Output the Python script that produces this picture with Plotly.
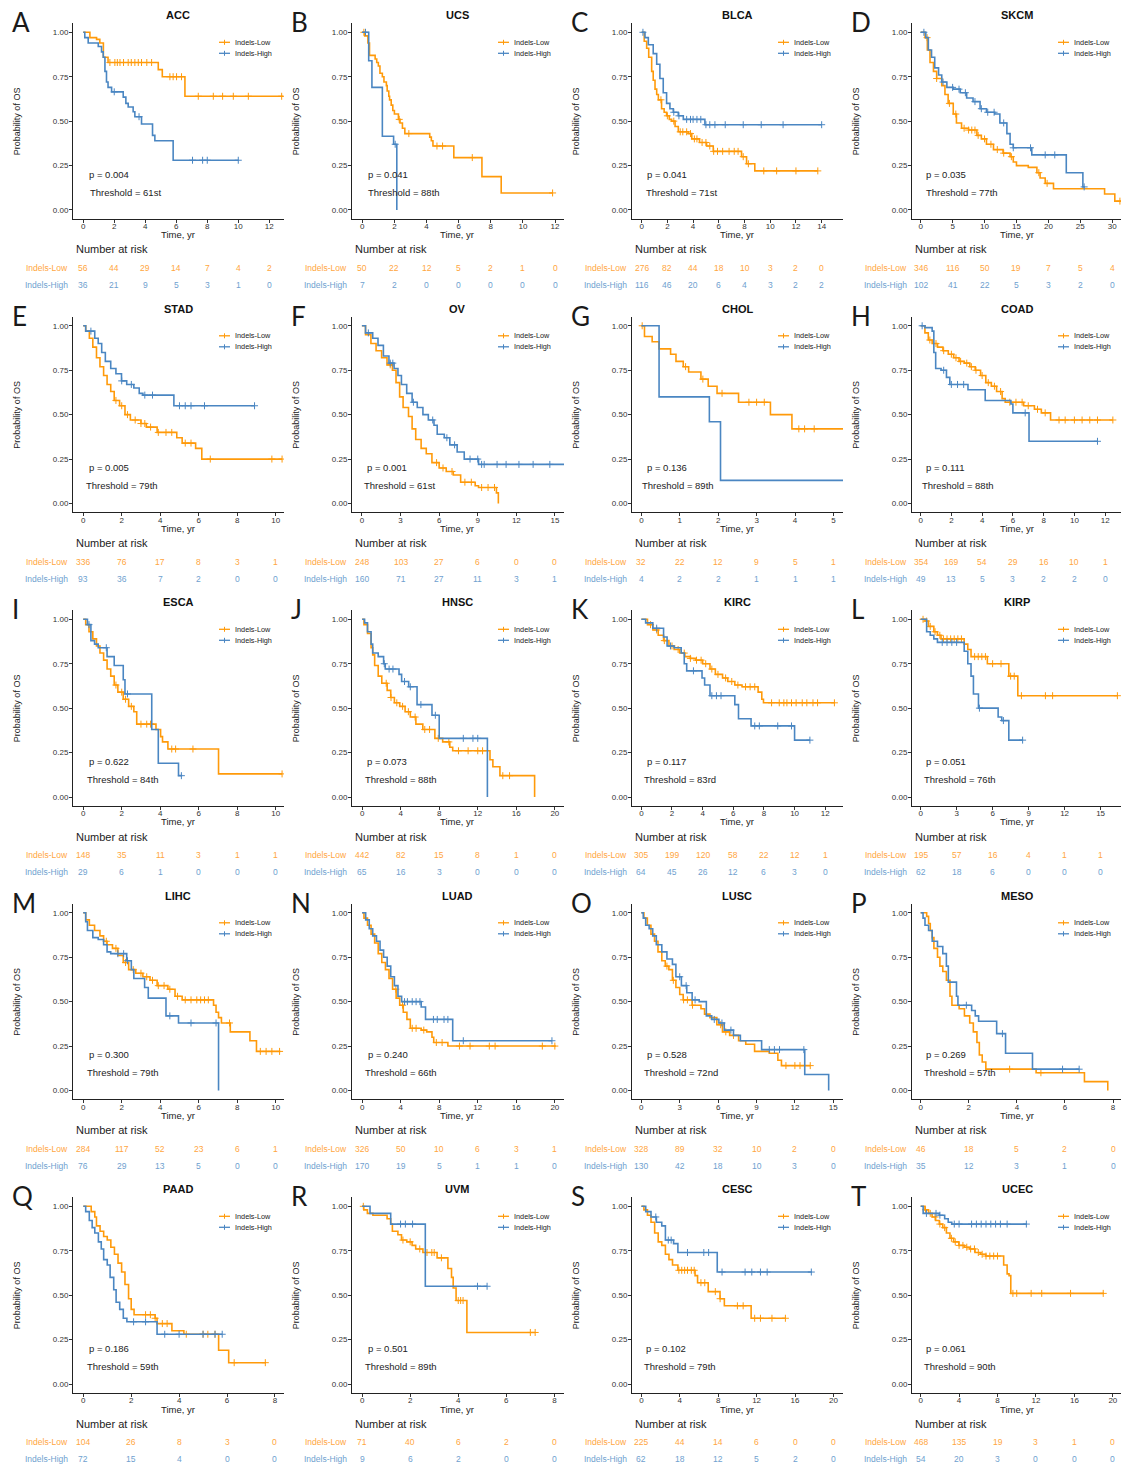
import plotly.graph_objects as go

W, H = 1121, 1467
ORANGE = "#FF9A0A"
BLUE = "#4A86C2"
ORANGE_TXT = "#FFA640"
BLUE_TXT = "#6F9FCF"
FONT = "Liberation Sans, Arial, sans-serif"
DARK = "#222222"

# ---------------- data ----------------
letters = list("ABCDEFGHIJKLMNOPQRST")
cancers = ["ACC", "UCS", "BLCA", "SKCM", "STAD", "OV", "CHOL", "COAD", "ESCA", "HNSC",
           "KIRC", "KIRP", "LIHC", "LUAD", "LUSC", "MESO", "PAAD", "UVM", "CESC", "UCEC"]
p_values = ["0.004", "0.041", "0.041", "0.035", "0.005", "0.001", "0.136", "0.111", "0.622", "0.073",
            "0.117", "0.051", "0.300", "0.240", "0.528", "0.269", "0.186", "0.501", "0.102", "0.061"]
thresholds = ["61st", "88th", "71st", "77th", "79th", "61st", "89th", "88th", "84th", "88th",
              "83rd", "76th", "79th", "66th", "72nd", "57th", "59th", "89th", "79th", "90th"]
group_names = ["Indels-Low", "Indels-High"]

x_ticks = {
    "ACC": [0, 2, 4, 6, 8, 10, 12], "UCS": [0, 2, 4, 6, 8, 10, 12],
    "BLCA": [0, 2, 4, 6, 8, 10, 12, 14], "SKCM": [0, 5, 10, 15, 20, 25, 30],
    "STAD": [0, 2, 4, 6, 8, 10], "OV": [0, 3, 6, 9, 12, 15],
    "CHOL": [0, 1, 2, 3, 4, 5], "COAD": [0, 2, 4, 6, 8, 10, 12],
    "ESCA": [0, 2, 4, 6, 8, 10], "HNSC": [0, 4, 8, 12, 16, 20],
    "KIRC": [0, 2, 4, 6, 8, 10, 12], "KIRP": [0, 3, 6, 9, 12, 15],
    "LIHC": [0, 2, 4, 6, 8, 10], "LUAD": [0, 4, 8, 12, 16, 20],
    "LUSC": [0, 3, 6, 9, 12, 15], "MESO": [0, 2, 4, 6, 8],
    "PAAD": [0, 2, 4, 6, 8], "UVM": [0, 2, 4, 6, 8],
    "CESC": [0, 4, 8, 12, 16, 20], "UCEC": [0, 4, 8, 12, 16, 20],
}

risk_low = {
    "ACC": [56, 44, 29, 14, 7, 4, 2], "UCS": [50, 22, 12, 5, 2, 1, 0],
    "BLCA": [276, 82, 44, 18, 10, 3, 2, 0], "SKCM": [346, 116, 50, 19, 7, 5, 4],
    "STAD": [336, 76, 17, 8, 3, 1], "OV": [248, 103, 27, 6, 0, 0],
    "CHOL": [32, 22, 12, 9, 5, 1], "COAD": [354, 169, 54, 29, 16, 10, 1],
    "ESCA": [148, 35, 11, 3, 1, 1], "HNSC": [442, 82, 15, 8, 1, 0],
    "KIRC": [305, 199, 120, 58, 22, 12, 1], "KIRP": [195, 57, 16, 4, 1, 1],
    "LIHC": [284, 117, 52, 23, 6, 1], "LUAD": [326, 50, 10, 6, 3, 1],
    "LUSC": [328, 89, 32, 10, 2, 0], "MESO": [46, 18, 5, 2, 0],
    "PAAD": [104, 26, 8, 3, 0], "UVM": [71, 40, 6, 2, 0],
    "CESC": [225, 44, 14, 6, 0, 0], "UCEC": [468, 135, 19, 3, 1, 0],
}
risk_high = {
    "ACC": [36, 21, 9, 5, 3, 1, 0], "UCS": [7, 2, 0, 0, 0, 0, 0],
    "BLCA": [116, 46, 20, 6, 4, 3, 2, 2], "SKCM": [102, 41, 22, 5, 3, 2, 0],
    "STAD": [93, 36, 7, 2, 0, 0], "OV": [160, 71, 27, 11, 3, 1],
    "CHOL": [4, 2, 2, 1, 1, 1], "COAD": [49, 13, 5, 3, 2, 2, 0],
    "ESCA": [29, 6, 1, 0, 0, 0], "HNSC": [65, 16, 3, 0, 0, 0],
    "KIRC": [64, 45, 26, 12, 6, 3, 0], "KIRP": [62, 18, 6, 0, 0, 0],
    "LIHC": [76, 29, 13, 5, 0, 0], "LUAD": [170, 19, 5, 1, 1, 0],
    "LUSC": [130, 42, 18, 10, 3, 0], "MESO": [35, 12, 3, 1, 0],
    "PAAD": [72, 15, 4, 0, 0], "UVM": [9, 6, 2, 0, 0],
    "CESC": [62, 18, 12, 5, 2, 0], "UCEC": [54, 20, 3, 0, 0, 0],
}

# Kaplan-Meier curves: (time in years, survival probability after the step)
low_curve = {
    "ACC": [(0, 1), (0.43, 0.97), (0.86, 0.96), (1.07, 0.94), (1.3, 0.86), (1.6, 0.83), (4.84, 0.79),
            (5.1, 0.75), (6.56, 0.64), (12.9, 0.64)],
    "UCS": [(0, 1), (0.15, 0.98), (0.35, 0.94), (0.45, 0.87), (0.8, 0.85), (0.9, 0.83), (1.0, 0.81),
            (1.1, 0.77), (1.25, 0.75), (1.35, 0.72), (1.5, 0.70), (1.55, 0.67), (1.65, 0.64), (1.7, 0.62),
            (1.8, 0.59), (1.9, 0.56), (2.0, 0.54), (2.25, 0.51), (2.35, 0.49), (2.5, 0.46), (2.65, 0.43),
            (4.2, 0.41), (4.3, 0.39), (4.4, 0.36), (5.7, 0.295), (7.45, 0.188), (8.65, 0.096), (11.85, 0.096)],
    "BLCA": [(0, 1), (0.2, 0.95), (0.39, 0.91), (0.55, 0.86), (0.78, 0.78), (0.9, 0.73), (1.04, 0.68),
             (1.17, 0.65), (1.3, 0.62), (1.55, 0.57), (1.75, 0.55), (1.94, 0.53), (2.15, 0.51), (2.33, 0.50),
             (2.6, 0.47), (2.85, 0.44), (3.63, 0.43), (3.9, 0.40), (4.5, 0.38), (5.05, 0.36), (5.57, 0.33),
             (7.77, 0.30), (8.16, 0.26), (8.8, 0.22), (13.7, 0.22)],
    "SKCM": [(0, 1), (0.68, 0.97), (1.04, 0.90), (1.46, 0.83), (2.0, 0.78), (2.5, 0.74), (3.3, 0.70),
             (3.8, 0.65), (4.3, 0.60), (5.1, 0.54), (5.6, 0.49), (6.4, 0.46), (7.5, 0.45), (8.8, 0.42),
             (9.5, 0.40), (10.3, 0.37), (11.4, 0.34), (12.9, 0.32), (14.0, 0.30), (14.5, 0.27), (15.0, 0.25),
             (16.85, 0.24), (18.2, 0.21), (18.7, 0.18), (19.5, 0.15), (20.8, 0.12), (28.8, 0.09),
             (30.4, 0.05), (31.5, 0.05)],
    "STAD": [(0, 1), (0.13, 0.97), (0.32, 0.93), (0.5, 0.88), (0.69, 0.82), (0.87, 0.77), (1.06, 0.72),
             (1.24, 0.67), (1.43, 0.63), (1.61, 0.58), (1.89, 0.55), (2.17, 0.50), (2.45, 0.47), (3.0, 0.45),
             (3.28, 0.43), (3.84, 0.40), (4.86, 0.37), (5.14, 0.34), (5.84, 0.31), (6.16, 0.25), (10.33, 0.25)],
    "OV": [(0, 1), (0.28, 0.95), (0.7, 0.90), (1.1, 0.86), (1.53, 0.82), (1.95, 0.78), (2.37, 0.75),
           (2.65, 0.68), (2.93, 0.60), (3.2, 0.54), (3.62, 0.49), (3.9, 0.42), (4.18, 0.36), (4.6, 0.31),
           (5.0, 0.28), (5.44, 0.23), (6.0, 0.20), (6.55, 0.18), (7.1, 0.16), (7.67, 0.12), (8.8, 0.10),
           (9.06, 0.09), (10.45, 0.06), (10.6, 0.0)],
    "CHOL": [(0, 1), (0.08, 0.94), (0.28, 0.91), (0.46, 0.87), (0.76, 0.84), (0.9, 0.80), (1.09, 0.77),
             (1.23, 0.74), (1.55, 0.70), (1.74, 0.66), (1.97, 0.62), (2.53, 0.57), (3.36, 0.50),
             (3.92, 0.42), (5.25, 0.42)],
    "COAD": [(0, 1), (0.28, 0.96), (0.5, 0.92), (0.75, 0.90), (1.1, 0.88), (1.45, 0.86), (1.8, 0.84),
             (2.15, 0.82), (2.5, 0.80), (2.84, 0.79), (3.2, 0.77), (3.55, 0.75), (3.9, 0.72), (4.24, 0.68),
             (4.6, 0.66), (4.94, 0.63), (5.3, 0.59), (5.5, 0.57), (6.7, 0.55), (7.4, 0.53), (7.85, 0.51),
             (8.45, 0.47), (12.5, 0.47)],
    "ESCA": [(0, 1), (0.13, 0.97), (0.3, 0.93), (0.5, 0.89), (0.69, 0.85), (0.87, 0.81), (1.06, 0.77),
             (1.24, 0.72), (1.43, 0.68), (1.61, 0.63), (1.8, 0.59), (2.08, 0.55), (2.36, 0.51), (2.63, 0.48),
             (2.78, 0.41), (3.78, 0.38), (4.02, 0.34), (4.12, 0.31), (4.4, 0.27), (7.03, 0.13), (10.33, 0.13)],
    "HNSC": [(0, 1), (0.19, 0.97), (0.56, 0.92), (0.93, 0.84), (1.1, 0.80), (1.3, 0.74), (1.67, 0.68),
             (2.04, 0.64), (2.6, 0.60), (2.97, 0.56), (3.35, 0.53), (3.9, 0.51), (4.46, 0.48), (5.0, 0.45),
             (5.58, 0.41), (6.3, 0.38), (7.55, 0.33), (8.36, 0.31), (9.1, 0.28), (9.4, 0.26), (13.27, 0.21),
             (13.57, 0.17), (14.3, 0.12), (17.9, 0.0)],
    "KIRC": [(0, 1), (0.4, 0.97), (0.75, 0.94), (1.1, 0.91), (1.45, 0.88), (1.8, 0.85), (2.14, 0.83),
             (2.5, 0.81), (2.84, 0.79), (3.2, 0.78), (3.54, 0.77), (4.0, 0.75), (4.48, 0.72), (4.83, 0.69),
             (5.3, 0.67), (5.64, 0.65), (6.1, 0.63), (6.57, 0.62), (7.62, 0.59), (7.86, 0.55), (7.97, 0.53),
             (12.6, 0.53)],
    "KIRP": [(0, 1), (0.36, 0.99), (0.65, 0.96), (1.1, 0.93), (1.4, 0.91), (1.7, 0.89), (3.63, 0.86),
             (3.93, 0.83), (4.2, 0.79), (5.56, 0.75), (7.35, 0.68), (8.1, 0.57), (16.4, 0.57)],
    "LIHC": [(0, 1), (0.13, 0.96), (0.32, 0.93), (0.59, 0.90), (0.87, 0.87), (1.06, 0.84), (1.24, 0.82),
             (1.52, 0.80), (1.8, 0.76), (2.08, 0.72), (2.36, 0.68), (2.73, 0.66), (3.1, 0.64), (3.47, 0.62),
             (3.84, 0.59), (4.4, 0.57), (4.77, 0.53), (5.14, 0.51), (6.77, 0.48), (6.9, 0.44), (7.03, 0.41),
             (7.18, 0.38), (7.64, 0.33), (8.66, 0.28), (9.0, 0.22), (10.24, 0.22)],
    "LUAD": [(0, 1), (0.19, 0.97), (0.56, 0.93), (0.93, 0.88), (1.3, 0.83), (1.67, 0.77), (2.04, 0.72),
             (2.42, 0.68), (2.79, 0.63), (3.16, 0.57), (3.53, 0.52), (3.9, 0.48), (4.27, 0.44), (4.65, 0.40),
             (5.0, 0.35), (6.13, 0.34), (6.7, 0.33), (7.25, 0.30), (7.43, 0.27), (8.9, 0.25), (20.1, 0.25)],
    "LUSC": [(0, 1), (0.2, 0.97), (0.47, 0.93), (0.75, 0.88), (1.03, 0.84), (1.3, 0.78), (1.6, 0.73),
             (1.87, 0.70), (2.15, 0.68), (2.43, 0.62), (2.7, 0.58), (3.0, 0.54), (3.27, 0.51), (3.97, 0.48),
             (4.66, 0.46), (4.94, 0.43), (5.36, 0.41), (5.9, 0.37), (6.34, 0.33), (6.9, 0.31), (7.6, 0.28),
             (8.16, 0.26), (8.85, 0.22), (10.0, 0.21), (10.67, 0.17), (10.95, 0.14), (13.2, 0.14)],
    "MESO": [(0, 1), (0.25, 0.98), (0.33, 0.94), (0.4, 0.90), (0.48, 0.86), (0.55, 0.80), (0.7, 0.75),
             (0.8, 0.70), (0.92, 0.67), (1.07, 0.62), (1.22, 0.53), (1.3, 0.48), (1.6, 0.46), (1.82, 0.42),
             (2.04, 0.38), (2.19, 0.33), (2.34, 0.27), (2.44, 0.20), (2.56, 0.16), (2.71, 0.12), (4.8, 0.10),
             (6.81, 0.05), (7.78, 0.0)],
    "PAAD": [(0, 1), (0.33, 0.97), (0.48, 0.94), (0.55, 0.89), (0.7, 0.86), (0.85, 0.83), (1.0, 0.81),
             (1.15, 0.77), (1.3, 0.73), (1.45, 0.68), (1.6, 0.63), (1.74, 0.56), (1.89, 0.48), (2.0, 0.42),
             (2.12, 0.39), (3.0, 0.37), (3.08, 0.34), (3.7, 0.30), (4.2, 0.28), (5.65, 0.19), (6.07, 0.12),
             (7.63, 0.12)],
    "UVM": [(0, 1), (0.07, 0.98), (0.22, 0.96), (0.45, 0.95), (1.04, 0.93), (1.19, 0.90), (1.26, 0.86),
            (1.49, 0.84), (1.64, 0.81), (1.86, 0.80), (2.08, 0.78), (2.23, 0.76), (2.53, 0.74), (3.12, 0.71),
            (3.57, 0.65), (3.72, 0.60), (3.79, 0.54), (3.91, 0.47), (4.36, 0.29), (7.2, 0.29)],
    "CESC": [(0, 1), (0.26, 0.98), (0.63, 0.95), (1.0, 0.91), (1.38, 0.85), (1.75, 0.80), (2.12, 0.78),
             (2.5, 0.73), (2.87, 0.70), (3.24, 0.67), (3.8, 0.64), (5.59, 0.61), (5.85, 0.57), (6.96, 0.52),
             (8.19, 0.48), (8.64, 0.44), (11.43, 0.37), (15.0, 0.37)],
    "UCEC": [(0, 1), (0.45, 0.98), (0.82, 0.96), (1.19, 0.94), (1.56, 0.92), (1.94, 0.90), (2.3, 0.88),
             (2.68, 0.85), (3.05, 0.82), (3.43, 0.80), (3.98, 0.78), (4.54, 0.77), (5.1, 0.76), (5.66, 0.74),
             (6.22, 0.73), (6.78, 0.72), (8.64, 0.67), (9.0, 0.62), (9.2, 0.61), (9.38, 0.51), (19.07, 0.51)],
}
high_curve = {
    "ACC": [(0, 1), (0.1, 0.97), (0.32, 0.94), (0.97, 0.92), (1.18, 0.89), (1.29, 0.86), (1.4, 0.78),
            (1.5, 0.72), (1.6, 0.69), (1.83, 0.665), (2.58, 0.635), (2.75, 0.60), (2.9, 0.58), (3.22, 0.553),
            (3.33, 0.525), (3.76, 0.484), (4.47, 0.42), (4.62, 0.39), (5.8, 0.28), (10.0, 0.28)],
    "UCS": [(0, 1), (0.4, 0.84), (0.6, 0.69), (1.25, 0.415), (1.95, 0.37), (2.15, 0.0)],
    "BLCA": [(0, 1), (0.26, 0.97), (0.52, 0.93), (0.9, 0.88), (1.17, 0.82), (1.42, 0.74), (1.68, 0.66),
             (1.94, 0.60), (2.2, 0.57), (2.46, 0.55), (2.85, 0.53), (3.24, 0.51), (4.92, 0.48), (14.0, 0.48)],
    "SKCM": [(0, 1), (0.8, 0.97), (1.2, 0.90), (1.7, 0.86), (2.2, 0.80), (2.8, 0.76), (3.3, 0.72),
             (4.1, 0.69), (5.1, 0.68), (6.2, 0.66), (7.2, 0.63), (8.2, 0.61), (9.3, 0.57), (10.3, 0.55),
             (11.6, 0.54), (12.4, 0.49), (13.5, 0.43), (14.0, 0.37), (14.5, 0.35), (17.4, 0.31), (22.8, 0.21),
             (25.4, 0.13), (25.7, 0.13)],
    "STAD": [(0, 1), (0.13, 0.97), (0.6, 0.93), (0.78, 0.90), (0.96, 0.85), (1.15, 0.80), (1.43, 0.76),
             (1.7, 0.73), (1.99, 0.69), (2.26, 0.67), (2.63, 0.65), (2.91, 0.62), (3.1, 0.61), (4.71, 0.55),
             (8.9, 0.55)],
    "OV": [(0, 1), (0.28, 0.96), (0.84, 0.93), (1.25, 0.89), (1.67, 0.83), (2.1, 0.79), (2.5, 0.76),
           (2.8, 0.72), (3.07, 0.67), (3.48, 0.62), (3.9, 0.57), (4.3, 0.54), (4.74, 0.50), (5.16, 0.47),
           (5.6, 0.44), (5.85, 0.39), (6.4, 0.37), (6.83, 0.33), (7.4, 0.29), (7.95, 0.25), (9.06, 0.22),
           (15.7, 0.22)],
    "CHOL": [(0, 1), (0.46, 0.60), (1.77, 0.46), (2.06, 0.13), (5.25, 0.13)],
    "COAD": [(0, 1), (0.28, 0.99), (0.75, 0.97), (0.86, 0.85), (0.98, 0.76), (1.33, 0.75), (1.68, 0.71),
             (1.9, 0.67), (3.08, 0.64), (4.2, 0.58), (5.87, 0.56), (6.0, 0.51), (7.05, 0.35), (11.5, 0.35)],
    "ESCA": [(0, 1), (0.22, 0.97), (0.4, 0.88), (0.59, 0.86), (0.78, 0.84), (1.24, 0.79), (1.61, 0.74),
             (2.08, 0.66), (2.17, 0.58), (3.56, 0.38), (3.9, 0.19), (4.95, 0.12), (5.14, 0.12)],
    "HNSC": [(0, 1), (0.26, 0.98), (0.56, 0.93), (0.93, 0.86), (1.1, 0.81), (1.67, 0.79), (2.23, 0.75),
             (2.4, 0.72), (3.83, 0.69), (4.1, 0.65), (4.83, 0.62), (5.7, 0.52), (7.25, 0.46), (8.0, 0.33),
             (13.0, 0.0)],
    "KIRC": [(0, 1), (0.28, 0.98), (0.75, 0.95), (1.45, 0.90), (1.68, 0.85), (2.14, 0.84), (2.6, 0.81),
             (2.8, 0.75), (2.96, 0.71), (3.96, 0.67), (4.13, 0.63), (4.48, 0.57), (6.1, 0.52), (6.34, 0.44),
             (7.16, 0.40), (10.0, 0.32), (11.0, 0.32)],
    "KIRP": [(0, 1), (0.5, 0.93), (0.8, 0.91), (1.1, 0.89), (1.4, 0.87), (3.63, 0.82), (3.93, 0.75),
             (4.2, 0.68), (4.4, 0.58), (4.82, 0.50), (6.46, 0.45), (6.76, 0.43), (7.35, 0.32), (8.54, 0.32)],
    "LIHC": [(0, 1), (0.13, 0.95), (0.22, 0.90), (0.5, 0.86), (0.78, 0.85), (1.06, 0.82), (1.24, 0.78),
             (1.43, 0.77), (2.26, 0.73), (2.5, 0.68), (2.63, 0.63), (3.19, 0.58), (3.38, 0.52), (4.3, 0.42),
             (4.95, 0.38), (7.03, 0.0)],
    "LUAD": [(0, 1), (0.37, 0.96), (0.74, 0.91), (1.1, 0.87), (1.49, 0.84), (1.86, 0.79), (2.23, 0.75),
             (2.6, 0.70), (2.97, 0.64), (3.35, 0.59), (3.72, 0.53), (4.1, 0.50), (6.13, 0.47), (6.58, 0.40),
             (9.4, 0.28), (19.7, 0.28)],
    "LUSC": [(0, 1), (0.15, 0.97), (0.34, 0.93), (0.61, 0.91), (0.89, 0.87), (1.17, 0.82), (1.6, 0.78),
             (2.0, 0.74), (2.43, 0.71), (2.7, 0.64), (3.13, 0.59), (3.55, 0.55), (3.97, 0.51), (4.52, 0.50),
             (5.08, 0.42), (5.5, 0.40), (6.06, 0.38), (6.48, 0.34), (7.2, 0.31), (7.74, 0.28), (9.4, 0.23),
             (12.77, 0.09), (14.64, 0.0)],
    "MESO": [(0, 1), (0.1, 0.97), (0.18, 0.93), (0.33, 0.90), (0.48, 0.84), (0.7, 0.81), (0.92, 0.77),
             (1.07, 0.70), (1.15, 0.61), (1.49, 0.53), (1.55, 0.48), (2.12, 0.45), (2.27, 0.42), (2.41, 0.39),
             (3.16, 0.32), (3.53, 0.21), (4.65, 0.12), (6.59, 0.12)],
    "PAAD": [(0, 1), (0.1, 0.97), (0.25, 0.92), (0.37, 0.88), (0.48, 0.85), (0.63, 0.80), (0.75, 0.76),
             (0.85, 0.70), (1.0, 0.67), (1.12, 0.60), (1.27, 0.53), (1.37, 0.46), (1.52, 0.42), (1.67, 0.37),
             (1.82, 0.35), (3.08, 0.28), (5.8, 0.28)],
    "UVM": [(0, 1), (0.33, 0.96), (1.19, 0.90), (2.63, 0.55), (5.2, 0.55)],
    "CESC": [(0, 1), (0.45, 0.97), (1.0, 0.94), (1.56, 0.91), (2.12, 0.89), (2.5, 0.81), (3.35, 0.79),
             (3.8, 0.74), (7.9, 0.63), (17.77, 0.63)],
    "UCEC": [(0, 1), (0.26, 0.96), (1.94, 0.95), (2.5, 0.93), (2.87, 0.91), (3.24, 0.90), (11.06, 0.90)],
}

# censoring times (years)
low_censor = {
    "ACC": [1.72, 2.04, 2.2, 2.37, 2.6, 2.9, 3.1, 3.33, 3.55, 3.76, 4.1, 4.41, 5.59, 5.8, 6.02, 6.34,
            7.42, 8.39, 8.99, 9.68, 10.65, 12.8],
    "UCS": [0.1, 2.3, 2.9, 4.65, 5.0, 6.85, 11.85],
    "BLCA": [1.5, 2.0, 2.5, 3.0, 3.2, 3.5, 3.8, 4.1, 4.3, 4.7, 5.0, 5.3, 5.6, 5.9, 6.3, 6.8, 7.2, 7.5,
             7.9, 8.3, 9.5, 10.5, 12.0, 13.7],
    "SKCM": [1.0, 2.5, 4.5, 5.5, 6.8, 7.5, 8.0, 8.5, 9.0, 10.0, 11.0, 12.0, 13.0, 14.2, 18.5, 19.8, 31.2],
    "STAD": [1.7, 2.0, 2.3, 2.7, 3.0, 3.2, 3.5, 3.9, 4.3, 4.6, 5.3, 5.6, 6.6, 9.8, 10.33],
    "OV": [2.2, 5.8, 6.3, 7.0, 8.0, 8.5, 9.3, 9.8, 10.3],
    "CHOL": [0.02, 1.15, 1.6, 2.1, 2.8, 3.0, 3.2, 4.1, 4.25, 4.5],
    "COAD": [0.6, 1.0, 1.5, 2.0, 2.3, 2.6, 3.0, 3.3, 3.6, 4.0, 4.4, 4.8, 5.2, 5.8, 6.2, 6.6, 7.0, 7.6,
             8.1, 9.0, 9.4, 10.0, 10.5, 11.0, 11.5, 12.5],
    "ESCA": [1.7, 2.0, 2.2, 2.5, 3.0, 3.3, 3.5, 4.6, 4.8, 5.7, 10.33],
    "HNSC": [2.5, 3.0, 3.6, 4.2, 4.8, 5.5, 6.5, 7.0, 7.9, 9.0, 10.0, 11.0, 12.0, 12.5, 14.6, 15.3],
    "KIRC": [0.6, 1.0, 1.5, 2.0, 2.4, 2.8, 3.2, 3.6, 3.9, 4.2, 4.6, 5.0, 5.5, 5.9, 6.3, 6.8, 7.1, 7.4,
             8.5, 9.0, 9.3, 9.5, 9.8, 10.1, 10.5, 10.8, 11.2, 11.5, 12.6],
    "KIRP": [0.2, 0.5, 0.8, 1.2, 1.6, 1.9, 2.2, 2.5, 2.8, 3.1, 3.4, 4.5, 4.8, 5.1, 5.4, 6.0, 6.7, 7.5,
             7.8, 8.4, 10.4, 11.0, 16.4],
    "LIHC": [1.2, 1.7, 2.2, 2.6, 3.0, 3.3, 3.6, 3.9, 4.2, 4.5, 4.9, 5.3, 5.6, 5.9, 6.1, 6.3, 6.5, 7.6,
             9.2, 9.5, 9.8, 10.2],
    "LUAD": [3.5, 4.2, 5.2, 5.6, 6.4, 7.7, 8.3, 10.1, 11.2, 13.2, 13.8, 18.7, 20.0],
    "LUSC": [2.0, 2.5, 3.3, 3.6, 4.0, 6.2, 6.6, 7.2, 11.3, 12.0, 12.4, 13.2],
    "MESO": [3.7, 5.0],
    "PAAD": [2.6, 2.8, 3.0, 3.3, 3.5, 4.3, 5.0, 5.2, 5.5, 6.3, 7.6],
    "UVM": [0.05, 1.7, 2.0, 2.4, 2.7, 2.9, 3.0, 3.3, 4.0, 4.1, 4.2, 7.0, 7.2],
    "CESC": [3.9, 4.2, 4.5, 4.8, 5.2, 5.5, 6.2, 6.6, 7.7, 8.2, 10.0, 10.6, 11.8, 12.4, 13.6, 15.0],
    "UCEC": [0.5, 1.0, 1.5, 2.0, 2.5, 3.2, 3.6, 4.0, 4.4, 4.8, 5.2, 5.6, 6.0, 6.4, 6.8, 7.2, 7.6, 8.0,
             9.6, 10.0, 11.5, 12.6, 15.6, 19.0],
}
high_censor = {
    "ACC": [2.0, 3.6, 7.05, 7.7, 8.0, 10.0],
    "UCS": [0.2, 2.05],
    "BLCA": [0.1, 2.5, 2.9, 3.5, 3.8, 4.0, 4.3, 4.6, 5.0, 5.3, 5.7, 6.5, 7.9, 9.3, 11.0, 14.0],
    "SKCM": [0.5, 3.5, 5.0, 6.0, 7.0, 8.5, 9.5, 10.5, 11.5, 13.0, 14.5, 17.2, 19.5, 21.0, 25.6],
    "STAD": [0.4, 2.0, 2.5, 3.2, 3.6, 5.0, 5.3, 5.6, 6.3, 8.9],
    "OV": [0.5, 2.2, 2.4, 4.0, 5.5, 6.6, 7.2, 8.4, 9.0, 9.3, 9.5, 10.5, 11.2, 12.2, 13.3, 14.6],
    "CHOL": [],
    "COAD": [0.1, 1.5, 2.0, 2.4, 2.8, 6.8, 11.5],
    "ESCA": [0.3, 1.2, 2.3, 5.1],
    "HNSC": [2.3, 2.8, 3.2, 4.4, 5.0, 6.1, 7.6, 10.5, 11.5, 12.0],
    "KIRC": [1.0, 1.9, 3.4, 4.6, 4.9, 5.2, 7.4, 7.7, 8.9, 9.8, 11.0],
    "KIRP": [1.8, 2.2, 2.6, 3.0, 4.9, 6.9, 8.5],
    "LIHC": [1.8, 2.1, 2.3, 4.5, 5.6, 6.9],
    "LUAD": [4.4, 4.7, 5.2, 5.6, 6.0, 7.4, 7.8, 8.5, 8.9, 10.5, 19.7],
    "LUSC": [3.0, 3.5, 4.2, 5.7, 6.3, 7.0, 10.0, 10.4, 10.8, 12.7],
    "MESO": [1.9, 3.4, 5.9, 6.59],
    "PAAD": [2.1, 2.6, 3.4, 4.0, 5.0, 5.5, 5.8],
    "UVM": [1.6, 1.8, 2.1, 4.8, 5.2],
    "CESC": [1.5, 2.8, 3.1, 4.8, 6.5, 7.0, 8.4, 10.8, 11.5, 12.4, 13.1, 17.7],
    "UCEC": [0.6, 1.6, 2.0, 3.5, 4.0, 5.3, 5.8, 6.3, 6.8, 7.3, 7.8, 8.3, 9.0, 11.0],
}

# ---------------- layout settings ----------------
x_ranges = {
    "ACC": [-0.66, 12.95], "UCS": [-0.64, 12.56], "BLCA": [-0.75, 15.66], "SKCM": [-1.36, 31.37],
    "STAD": [-0.53, 10.43], "OV": [-0.77, 15.7], "CHOL": [-0.245, 5.25], "COAD": [-0.56, 13.03],
    "ESCA": [-0.53, 10.43], "HNSC": [-1.05, 20.95], "KIRC": [-0.61, 13.16], "KIRP": [-0.72, 16.7],
    "LIHC": [-0.53, 10.43], "LUAD": [-1.05, 20.95], "LUSC": [-0.73, 15.76], "MESO": [-0.36, 8.33],
    "PAAD": [-0.43, 8.38], "UVM": [-0.42, 8.4], "CESC": [-0.98, 21.0], "UCEC": [-0.9, 20.85],
}
text_dx = {  # px offset from left axis line for p-value / threshold text
    "ACC": (14, 15), "UCS": (14, 14), "BLCA": (13, 12), "SKCM": (12, 12), "STAD": (14, 11),
    "OV": (13, 10), "CHOL": (13, 8), "COAD": (12, 8), "ESCA": (14, 12), "HNSC": (13, 11),
    "KIRC": (13, 10), "KIRP": (12, 10), "LIHC": (14, 12), "LUAD": (14, 11), "LUSC": (13, 10),
    "MESO": (12, 10), "PAAD": (14, 12), "UVM": (14, 11), "CESC": (12, 10), "UCEC": (12, 10),
}
col_left = [73, 352, 632, 912]
col_right = [284, 564, 843, 1121]
ROW0_T1 = 32.3
ROW_STEP = 293.5
Y_SPAN = 177.7


def pxx(x):
    return x / W


def pxy(y):
    return 1 - y / H


def surv_at(curve, t):
    s = curve[0][1]
    for tt, ss in curve:
        if tt <= t:
            s = ss
        else:
            break
    return s


fig = go.Figure()
annotations = []
shapes = []
axes = {}

for i, c in enumerate(cancers):
    r, col = divmod(i, 4)
    n = i + 1
    xa = "x" if n == 1 else f"x{n}"
    ya = "y" if n == 1 else f"y{n}"
    xkey = "xaxis" if n == 1 else f"xaxis{n}"
    ykey = "yaxis" if n == 1 else f"yaxis{n}"
    left, right = col_left[col], col_right[col]
    t1 = ROW0_T1 + r * ROW_STEP
    t0 = t1 + Y_SPAN
    top = t1 - 0.05 * Y_SPAN
    bottom = t0 + 0.05 * Y_SPAN
    cx = left + 105

    axes[xkey] = dict(
        domain=[pxx(left), min(1.0, pxx(right))], range=x_ranges[c], anchor=ya,
        tickvals=x_ticks[c], ticktext=[str(v) for v in x_ticks[c]],
        showline=True, linecolor="#222", linewidth=1, ticks="outside", ticklen=3,
        tickcolor="#333", tickwidth=1, showgrid=False, zeroline=False, ticklabelstandoff=-3,
        tickfont=dict(family=FONT, size=8, color="#333"), fixedrange=True,
    )
    axes[ykey] = dict(
        domain=[pxy(bottom), pxy(top)], range=[-0.05, 1.05], anchor=xa,
        tickvals=[0, 0.25, 0.5, 0.75, 1.0], ticktext=["0.00", "0.25", "0.50", "0.75", "1.00"],
        showline=True, linecolor="#222", linewidth=1, ticks="outside", ticklen=3,
        tickcolor="#333", tickwidth=1, showgrid=False, zeroline=False, ticklabelstandoff=-1,
        tickfont=dict(family=FONT, size=8, color="#333"), fixedrange=True,
    )

    for curve, cens, color in [(low_curve[c], low_censor[c], ORANGE),
                               (high_curve[c], high_censor[c], BLUE)]:
        fig.add_trace(go.Scatter(
            x=[p[0] for p in curve], y=[p[1] for p in curve], mode="lines",
            line=dict(shape="hv", color=color, width=1.6),
            xaxis=xa, yaxis=ya, showlegend=False, hoverinfo="skip"))
        if cens:
            fig.add_trace(go.Scatter(
                x=cens, y=[surv_at(curve, t) for t in cens], mode="markers",
                marker=dict(symbol="cross-thin", size=5, color=color,
                            line=dict(color=color, width=1)),
                xaxis=xa, yaxis=ya, showlegend=False, hoverinfo="skip"))

    # panel letter
    annotations.append(dict(x=pxx(left - 63), y=pxy(t1 - 10), xref="paper", yref="paper",
                            text=letters[i], showarrow=False, xanchor="left", yanchor="middle",
                            font=dict(family="Lato, Open Sans, sans-serif", size=26, color="#1a1a1a")))
    # title
    annotations.append(dict(x=pxx(cx), y=pxy(t1 - 17), xref="paper", yref="paper",
                            text=f"<b>{c}</b>", showarrow=False, xanchor="center", yanchor="middle",
                            font=dict(family=FONT, size=11, color="#111")))
    # y-axis title
    annotations.append(dict(x=pxx(left - 56), y=pxy((t1 + t0) / 2), xref="paper", yref="paper",
                            text="Probability of OS", showarrow=False, textangle=-90,
                            xanchor="center", yanchor="middle",
                            font=dict(family=FONT, size=9, color=DARK)))
    # x-axis title
    annotations.append(dict(x=pxx(cx), y=pxy(t0 + 25), xref="paper", yref="paper",
                            text="Time, yr", showarrow=False, xanchor="center", yanchor="middle",
                            font=dict(family=FONT, size=9.5, color=DARK)))
    # p-value and threshold
    pdx, tdx = text_dx[c]
    annotations.append(dict(x=pxx(left + pdx), y=pxy(t0 - 0.2 * Y_SPAN), xref="paper", yref="paper",
                            text=f"p = {p_values[i]}", showarrow=False, xanchor="left", yanchor="middle",
                            font=dict(family=FONT, size=9.5, color=DARK)))
    annotations.append(dict(x=pxx(left + tdx), y=pxy(t0 - 0.1 * Y_SPAN), xref="paper", yref="paper",
                            text=f"Threshold = {thresholds[i]}", showarrow=False, xanchor="left",
                            yanchor="middle", font=dict(family=FONT, size=9.5, color=DARK)))
    # legend
    for k, (gname, color) in enumerate(zip(group_names, [ORANGE, BLUE])):
        ly = t1 + 10 + 11 * k
        shapes.append(dict(type="line", xref="paper", yref="paper",
                           x0=pxx(left + 146), x1=pxx(left + 157), y0=pxy(ly), y1=pxy(ly),
                           line=dict(color=color, width=1.3)))
        shapes.append(dict(type="line", xref="paper", yref="paper",
                           x0=pxx(left + 151.5), x1=pxx(left + 151.5), y0=pxy(ly - 2.5), y1=pxy(ly + 2.5),
                           line=dict(color=color, width=1)))
        annotations.append(dict(x=pxx(left + 160), y=pxy(ly), xref="paper", yref="paper",
                                text=gname, showarrow=False, xanchor="left", yanchor="middle",
                                font=dict(family=FONT, size=7.3, color=DARK)))
    # risk table
    annotations.append(dict(x=pxx(left + 1), y=pxy(t0 + 39.5), xref="paper", yref="paper",
                            text="Number at risk", showarrow=False, xanchor="left", yanchor="middle",
                            font=dict(family=FONT, size=11, color=DARK)))
    for k, (gname, vals, tcol) in enumerate(zip(group_names, [risk_low[c], risk_high[c]],
                                                [ORANGE_TXT, BLUE_TXT])):
        ry = t0 + 58.3 + 17 * k
        annotations.append(dict(x=pxx(left - 3), y=pxy(ry), xref="paper", yref="paper",
                                text=gname, showarrow=False, xanchor="right", yanchor="middle",
                                font=dict(family=FONT, size=8.5, color=tcol)))
        for tv, v in zip(x_ticks[c], vals):
            annotations.append(dict(x=tv, y=pxy(ry), xref=xa, yref="paper",
                                    text=str(v), showarrow=False, xanchor="center", yanchor="middle",
                                    font=dict(family=FONT, size=8.5, color=tcol)))

fig.update_layout(
    width=W, height=H, margin=dict(l=0, r=0, t=0, b=0),
    paper_bgcolor="white", plot_bgcolor="white", showlegend=False,
    annotations=annotations, shapes=shapes, **axes,
)

fig.write_html("out.html", config={"displayModeBar": False, "staticPlot": True},
               post_script="document.body.style.margin='0px';document.body.style.overflow='hidden';")
